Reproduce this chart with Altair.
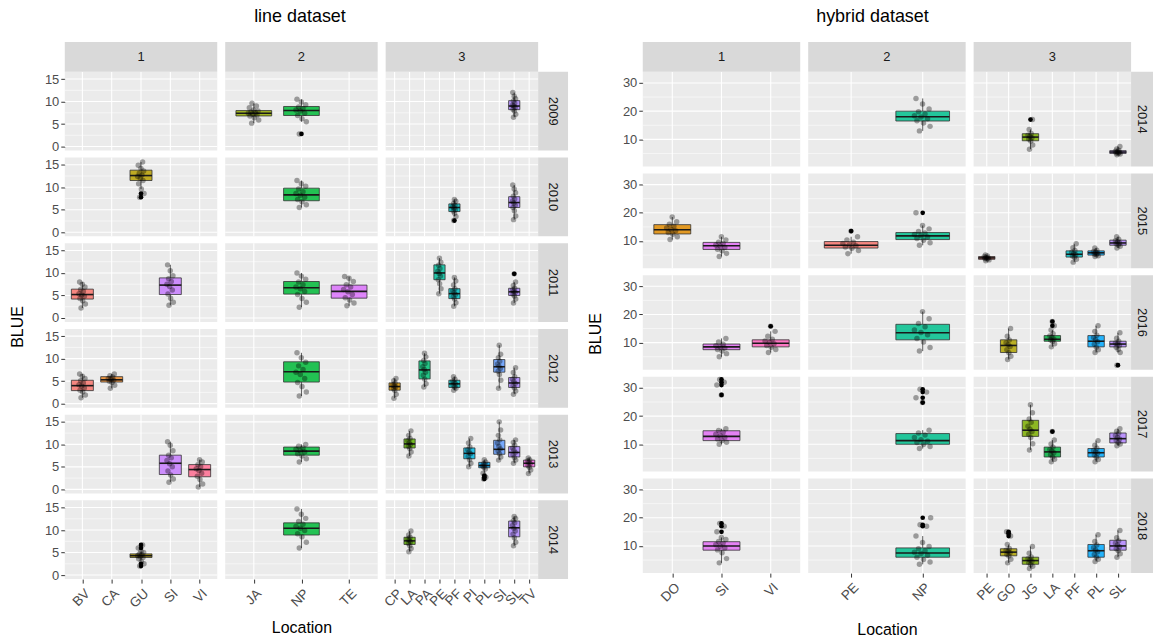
import json
import altair as alt
import pandas as pd

FONT = "Liberation Sans"
PANEL_BG = "#EBEBEB"
STRIP_BG = "#D9D9D9"
STRIP_TXT = "#1A1A1A"

# ---------------- line dataset ----------------
LINE_YEARS = [2009, 2010, 2011, 2012, 2013, 2014]
LINE_CATS = {
    1: ["BV", "CA", "GU", "SI", "VI"],
    2: ["JA", "NP", "TE"],
    3: ["CP", "LA", "PA", "PE", "PF", "PI", "PL", "SI", "SL", "TV"],
}
LINE_Y_MAJOR = [0, 5, 10, 15]
LINE_Y_MINOR = [2.5, 7.5, 12.5]
LINE_Y_DOMAIN = [-0.9, 16.6]

# year, group, location, lower whisker, Q1, median, Q3, upper whisker
LINE_BOXES = [
    (2009, 2, "JA", 5.2, 6.8, 7.4, 8.0, 9.6),
    (2009, 2, "NP", 5.5, 6.9, 8.0, 8.9, 10.5),
    (2009, 3, "SL", 6.5, 8.2, 9.0, 10.2, 12.0),
    (2010, 1, "GU", 9.6, 11.5, 12.6, 13.8, 15.6),
    (2010, 2, "NP", 5.5, 7.0, 8.3, 9.8, 11.5),
    (2010, 3, "PF", 3.5, 4.6, 5.5, 6.3, 7.3),
    (2010, 3, "SL", 2.8, 5.5, 6.6, 7.9, 10.5),
    (2011, 1, "BV", 2.2, 4.2, 5.2, 6.4, 8.0),
    (2011, 1, "SI", 2.8, 5.2, 7.3, 8.9, 11.8),
    (2011, 2, "NP", 2.4, 5.3, 6.7, 8.1, 10.0),
    (2011, 2, "TE", 2.7, 4.4, 5.9, 7.3, 9.2),
    (2011, 3, "PE", 5.4, 8.5, 10.0, 11.8, 13.3),
    (2011, 3, "PF", 2.6, 4.3, 5.4, 6.5, 9.0),
    (2011, 3, "SL", 3.3, 5.0, 5.8, 6.6, 8.0),
    (2012, 1, "BV", 1.3, 2.9, 4.0, 5.2, 6.6),
    (2012, 1, "CA", 3.4, 4.8, 5.3, 6.0, 6.6),
    (2012, 2, "NP", 1.7, 4.8, 7.1, 9.3, 11.3),
    (2012, 3, "CP", 1.2, 3.0, 3.8, 4.6, 5.6),
    (2012, 3, "PA", 3.7, 5.5, 7.5, 9.5, 11.2),
    (2012, 3, "PF", 3.0, 3.6, 4.4, 5.2, 6.0),
    (2012, 3, "SI", 3.4, 7.0, 8.2, 9.8, 13.0),
    (2012, 3, "SL", 2.1, 3.6, 4.6, 5.8, 8.0),
    (2013, 1, "SI", 1.6, 3.3, 5.8, 7.6, 10.6),
    (2013, 1, "VI", 0.5, 2.8, 4.4, 5.5, 6.6),
    (2013, 2, "NP", 6.1, 7.6, 8.5, 9.4, 10.0),
    (2013, 3, "LA", 7.4, 9.2, 10.1, 11.2, 13.0),
    (2013, 3, "PI", 5.0, 6.8, 8.0, 9.2, 11.3),
    (2013, 3, "PL", 3.6, 4.8, 5.3, 6.0, 6.6),
    (2013, 3, "SI", 6.5, 7.8, 8.9, 10.9, 15.0),
    (2013, 3, "SL", 5.8, 7.2, 8.2, 9.5, 11.0),
    (2013, 3, "TV", 3.5, 5.0, 5.8, 6.5, 7.0),
    (2014, 1, "GU", 3.0, 3.9, 4.3, 4.7, 5.3),
    (2014, 2, "NP", 6.0, 8.9, 10.4, 11.6, 14.7),
    (2014, 3, "LA", 5.2, 6.8, 7.6, 8.4, 9.8),
    (2014, 3, "SL", 6.5, 8.5, 10.5, 12.0, 13.0),
]
LINE_OUTLIERS = {
    (2009, 2, "NP"): [2.8],
    (2010, 1, "GU"): [7.8, 8.6],
    (2010, 3, "PF"): [2.6],
    (2011, 3, "SL"): [9.8],
    (2013, 3, "PL"): [2.3, 2.7, 3.0],
    (2014, 1, "GU"): [2.0, 2.5, 6.0, 6.7],
}
LINE_POINTS = {
    (2009, 2, "JA"): [5.2, 5.9, 6.4, 6.8, 7.0, 7.2, 7.4, 7.5, 7.7, 7.9, 8.1, 8.6, 9.0, 9.6],
    (2009, 2, "NP"): [2.8, 5.5, 6.2, 6.9, 7.4, 7.9, 8.1, 8.4, 8.8, 9.3, 9.9, 10.5],
    (2009, 3, "SL"): [6.5, 7.2, 7.9, 8.3, 8.7, 9.0, 9.2, 9.6, 10.1, 10.6, 11.2, 12.0],
    (2010, 1, "GU"): [7.8, 8.6, 9.6, 10.8, 11.5, 12.0, 12.4, 12.7, 13.1, 13.6, 14.2, 14.9, 15.6],
    (2010, 2, "NP"): [5.5, 6.1, 6.8, 7.3, 7.8, 8.2, 8.6, 9.0, 9.6, 10.2, 10.8, 11.5],
    (2010, 3, "PF"): [2.6, 3.5, 4.2, 4.7, 5.0, 5.4, 5.7, 6.0, 6.4, 6.9, 7.3],
    (2010, 3, "SL"): [2.8, 3.6, 4.8, 5.5, 6.0, 6.5, 6.9, 7.4, 8.0, 8.8, 9.6, 10.5],
    (2011, 1, "BV"): [2.2, 3.1, 3.8, 4.3, 4.8, 5.1, 5.4, 5.9, 6.3, 6.9, 7.5, 8.0],
    (2011, 1, "SI"): [2.8, 3.5, 4.4, 5.3, 6.2, 7.0, 7.5, 8.1, 8.7, 9.4, 10.5, 11.8],
    (2011, 2, "NP"): [2.4, 3.5, 4.3, 5.2, 5.9, 6.5, 6.9, 7.4, 8.0, 8.6, 9.3, 10.0],
    (2011, 2, "TE"): [2.7, 3.3, 4.0, 4.5, 5.2, 5.8, 6.3, 6.9, 7.4, 8.1, 8.8, 9.2],
    (2011, 3, "PE"): [5.4, 6.5, 7.6, 8.5, 9.3, 9.9, 10.4, 11.0, 11.7, 12.4, 13.3],
    (2011, 3, "PF"): [2.6, 3.4, 4.2, 4.7, 5.2, 5.6, 6.0, 6.5, 7.3, 8.2, 9.0],
    (2011, 3, "SL"): [3.3, 4.2, 4.9, 5.3, 5.7, 5.9, 6.2, 6.6, 7.2, 8.0, 9.8],
    (2012, 1, "BV"): [1.3, 1.9, 2.6, 3.0, 3.5, 3.9, 4.2, 4.6, 5.1, 5.6, 6.1, 6.6],
    (2012, 1, "CA"): [3.4, 4.1, 4.7, 5.0, 5.2, 5.4, 5.6, 5.9, 6.2, 6.6],
    (2012, 2, "NP"): [1.7, 2.6, 3.8, 4.7, 5.6, 6.5, 7.0, 7.6, 8.4, 9.2, 10.2, 11.3],
    (2012, 3, "CP"): [1.2, 2.1, 2.9, 3.3, 3.7, 3.9, 4.2, 4.6, 5.1, 5.6],
    (2012, 3, "PA"): [3.7, 4.4, 5.4, 6.3, 7.0, 7.6, 8.2, 8.9, 9.6, 10.4, 11.2],
    (2012, 3, "PF"): [3.0, 3.4, 3.7, 4.1, 4.4, 4.7, 5.0, 5.4, 6.0],
    (2012, 3, "SI"): [3.4, 5.2, 6.5, 7.2, 7.8, 8.3, 8.8, 9.4, 10.2, 11.0, 13.0],
    (2012, 3, "SL"): [2.1, 2.8, 3.5, 4.0, 4.5, 4.9, 5.4, 6.0, 6.9, 8.0],
    (2013, 1, "SI"): [1.6, 2.3, 3.2, 4.1, 5.0, 5.7, 6.4, 7.0, 7.6, 8.6, 9.8, 10.6],
    (2013, 1, "VI"): [0.5, 1.2, 2.2, 2.9, 3.6, 4.2, 4.6, 5.0, 5.5, 6.1, 6.6],
    (2013, 2, "NP"): [6.1, 6.8, 7.4, 7.9, 8.3, 8.6, 8.9, 9.2, 9.6, 10.0],
    (2013, 3, "LA"): [7.4, 8.3, 9.1, 9.6, 10.0, 10.3, 10.8, 11.3, 12.0, 13.0],
    (2013, 3, "PI"): [5.0, 5.8, 6.6, 7.3, 7.9, 8.3, 8.8, 9.4, 10.3, 11.3],
    (2013, 3, "PL"): [2.3, 2.7, 3.0, 3.6, 4.5, 4.9, 5.2, 5.4, 5.7, 6.1, 6.6],
    (2013, 3, "SI"): [6.5, 7.2, 7.9, 8.5, 9.0, 9.6, 10.3, 11.0, 12.0, 13.2, 15.0],
    (2013, 3, "SL"): [5.8, 6.5, 7.1, 7.7, 8.2, 8.7, 9.2, 9.8, 10.4, 11.0],
    (2013, 3, "TV"): [3.5, 4.3, 4.9, 5.3, 5.7, 6.0, 6.3, 6.6, 7.0],
    (2014, 1, "GU"): [2.0, 2.5, 3.0, 3.6, 3.9, 4.1, 4.3, 4.5, 4.7, 5.0, 5.3, 6.0, 6.7],
    (2014, 2, "NP"): [6.0, 7.3, 8.5, 9.2, 9.9, 10.4, 10.8, 11.3, 11.9, 12.6, 13.5, 14.7],
    (2014, 3, "LA"): [5.2, 5.9, 6.5, 7.0, 7.4, 7.7, 8.0, 8.4, 8.9, 9.8],
    (2014, 3, "SL"): [6.5, 7.3, 8.3, 9.1, 9.8, 10.4, 11.0, 11.6, 12.1, 12.6, 13.0],
}
LINE_COLORS = {
    "BV": "#F8766D", "CA": "#E88526", "CP": "#D39200", "GU": "#B79F00",
    "JA": "#93AA00", "LA": "#5EB300", "NP": "#00BA38", "PA": "#00BF74",
    "PE": "#00C19F", "PF": "#00BFC4", "PI": "#00B9E3", "PL": "#00ADFA",
    "SI": "#619CFF", "SL": "#AE87FF", "TE": "#DB72FB", "TV": "#F564E3",
    "VI": "#FF6C91",
}
LINE_COLOR_OVERRIDES = {(1, "SI"): "#C77CFF"}

# ---------------- hybrid dataset ----------------
HYB_YEARS = [2014, 2015, 2016, 2017, 2018]
HYB_CATS = {
    1: ["DO", "SI", "VI"],
    2: ["PE", "NP"],
    3: ["PE", "GO", "JG", "LA", "PF", "PL", "SL"],
}
HYB_Y_MAJOR = [10, 20, 30]
HYB_Y_MINOR = [5, 15, 25]
HYB_Y_DOMAIN = [0.36, 33.93]

HYB_BOXES = [
    (2014, 2, "NP", 13.0, 16.5, 18.0, 20.0, 24.5),
    (2014, 3, "JG", 6.5, 9.5, 10.8, 12.0, 13.5),
    (2014, 3, "SL", 4.5, 5.0, 5.5, 6.0, 7.5),
    (2015, 1, "DO", 10.5, 12.5, 14.0, 15.8, 18.5),
    (2015, 1, "SI", 4.5, 7.0, 8.3, 9.5, 11.5),
    (2015, 2, "PE", 5.5, 7.5, 8.5, 9.8, 11.5),
    (2015, 2, "NP", 8.5, 10.5, 11.8, 13.0, 15.5),
    (2015, 3, "PE", 3.0, 3.5, 4.0, 4.5, 5.0),
    (2015, 3, "PF", 2.5, 4.3, 5.3, 6.5, 9.0),
    (2015, 3, "PL", 4.5, 5.0, 5.8, 6.5, 7.5),
    (2015, 3, "SL", 7.5, 8.5, 9.3, 10.3, 11.5),
    (2016, 1, "SI", 5.0, 7.5, 8.5, 9.5, 11.5),
    (2016, 1, "VI", 6.5, 8.5, 9.8, 11.0, 14.0),
    (2016, 2, "NP", 7.0, 11.0, 13.5, 16.5, 21.0),
    (2016, 3, "GO", 4.0, 6.5, 9.0, 11.0, 15.0),
    (2016, 3, "LA", 8.5, 10.5, 11.2, 12.5, 14.5),
    (2016, 3, "PL", 6.5, 8.5, 10.5, 12.5, 16.0),
    (2016, 3, "SL", 6.5, 8.5, 9.5, 10.5, 13.5),
    (2017, 1, "SI", 10.0, 11.3, 12.8, 14.8, 15.5),
    (2017, 2, "NP", 8.5, 10.0, 11.3, 13.8, 15.0),
    (2017, 3, "JG", 8.0, 12.8, 15.0, 18.5, 24.0),
    (2017, 3, "LA", 3.8, 5.5, 7.3, 9.0, 11.5),
    (2017, 3, "PL", 3.8, 5.5, 7.0, 8.5, 11.3),
    (2017, 3, "SL", 9.5, 10.5, 12.0, 14.0, 15.5),
    (2018, 1, "SI", 4.0, 8.5, 10.0, 11.5, 13.0),
    (2018, 2, "NP", 3.5, 6.0, 7.5, 9.3, 13.5),
    (2018, 3, "GO", 4.0, 6.5, 7.8, 9.0, 10.5),
    (2018, 3, "JG", 2.0, 3.5, 4.8, 6.0, 9.8),
    (2018, 3, "PL", 4.5, 6.0, 8.3, 10.5, 14.0),
    (2018, 3, "SL", 6.0, 8.5, 10.0, 12.0, 15.5),
]
HYB_OUTLIERS = {
    (2014, 3, "JG"): [17.0],
    (2015, 2, "PE"): [13.5],
    (2015, 2, "NP"): [20.0],
    (2016, 1, "VI"): [15.8],
    (2016, 3, "LA"): [16.0, 17.5],
    (2016, 3, "SL"): [2.0],
    (2017, 1, "SI"): [27.5, 31.0, 32.0, 33.0],
    (2017, 2, "NP"): [24.8, 26.5, 28.5, 29.5],
    (2017, 3, "LA"): [14.5],
    (2018, 1, "SI"): [15.0, 17.0, 18.0],
    (2018, 2, "NP"): [17.0, 17.5, 20.0],
    (2018, 3, "GO"): [13.5, 14.5, 15.0],
}
HYB_POINTS = {
    (2014, 2, "NP"): [13.0, 14.6, 15.8, 16.6, 17.3, 17.9, 18.4, 19.0, 19.8, 20.8, 22.5, 24.5],
    (2014, 3, "JG"): [6.5, 8.0, 9.4, 10.1, 10.6, 11.0, 11.5, 12.1, 13.5, 17.0],
    (2014, 3, "SL"): [4.5, 4.8, 5.0, 5.2, 5.4, 5.6, 5.8, 6.1, 6.6, 7.5],
    (2015, 1, "DO"): [10.5, 11.5, 12.4, 13.0, 13.6, 14.1, 14.6, 15.2, 15.9, 16.8, 18.5],
    (2015, 1, "SI"): [4.5, 5.6, 6.5, 7.1, 7.7, 8.2, 8.6, 9.1, 9.6, 10.4, 11.5],
    (2015, 2, "PE"): [5.5, 6.6, 7.4, 7.9, 8.3, 8.7, 9.1, 9.6, 10.4, 11.5, 13.5],
    (2015, 2, "NP"): [8.5, 9.4, 10.3, 10.9, 11.4, 11.9, 12.3, 12.8, 13.4, 14.3, 15.5, 20.0],
    (2015, 3, "PE"): [3.0, 3.3, 3.6, 3.8, 4.0, 4.2, 4.4, 4.7, 5.0],
    (2015, 3, "PF"): [2.5, 3.5, 4.2, 4.7, 5.1, 5.5, 6.0, 6.6, 7.6, 9.0],
    (2015, 3, "PL"): [4.5, 4.8, 5.1, 5.4, 5.7, 6.0, 6.3, 6.7, 7.5],
    (2015, 3, "SL"): [7.5, 8.1, 8.6, 9.0, 9.3, 9.7, 10.1, 10.6, 11.5],
    (2016, 1, "SI"): [5.0, 6.1, 7.0, 7.6, 8.1, 8.5, 8.9, 9.4, 10.2, 11.5],
    (2016, 1, "VI"): [6.5, 7.6, 8.4, 9.0, 9.6, 10.1, 10.6, 11.2, 12.3, 14.0, 15.8],
    (2016, 2, "NP"): [7.0, 8.3, 10.2, 11.5, 12.8, 13.6, 14.5, 15.6, 16.8, 18.5, 21.0],
    (2016, 3, "GO"): [4.0, 5.2, 6.4, 7.5, 8.6, 9.3, 10.0, 10.9, 12.3, 15.0],
    (2016, 3, "LA"): [8.5, 9.6, 10.4, 10.9, 11.3, 11.8, 12.4, 13.2, 14.5, 16.0, 17.5],
    (2016, 3, "PL"): [6.5, 7.5, 8.4, 9.4, 10.3, 11.0, 11.8, 12.6, 14.0, 16.0],
    (2016, 3, "SL"): [2.0, 6.5, 7.6, 8.4, 9.0, 9.5, 9.9, 10.5, 11.6, 13.5],
    (2017, 1, "SI"): [10.0, 10.7, 11.3, 11.9, 12.5, 13.0, 13.6, 14.3, 14.9, 15.5, 27.5, 31.0, 32.0, 33.0],
    (2017, 2, "NP"): [8.5, 9.2, 9.9, 10.6, 11.1, 11.6, 12.4, 13.3, 14.0, 15.0, 24.8, 26.5, 28.5, 29.5],
    (2017, 3, "JG"): [8.0, 10.2, 12.4, 13.6, 14.5, 15.3, 16.4, 17.8, 19.0, 21.2, 24.0],
    (2017, 3, "LA"): [3.8, 4.7, 5.5, 6.3, 7.0, 7.6, 8.2, 9.0, 10.1, 11.5, 14.5],
    (2017, 3, "PL"): [3.8, 4.6, 5.4, 6.2, 6.8, 7.3, 7.9, 8.6, 9.7, 11.3],
    (2017, 3, "SL"): [9.5, 10.1, 10.6, 11.3, 11.9, 12.4, 13.1, 13.9, 14.6, 15.5],
    (2018, 1, "SI"): [4.0, 5.5, 7.6, 8.6, 9.3, 9.9, 10.4, 11.0, 11.6, 12.3, 13.0, 15.0, 17.0, 18.0],
    (2018, 2, "NP"): [3.5, 4.3, 5.2, 6.0, 6.7, 7.3, 7.8, 8.4, 9.0, 9.8, 11.2, 13.5, 17.0, 17.5, 20.0],
    (2018, 3, "GO"): [4.0, 5.3, 6.4, 7.0, 7.6, 8.0, 8.5, 9.1, 10.5, 13.5, 14.5, 15.0],
    (2018, 3, "JG"): [2.0, 2.8, 3.4, 4.0, 4.6, 5.0, 5.5, 6.1, 7.4, 9.8],
    (2018, 3, "PL"): [4.5, 5.3, 6.1, 7.0, 7.9, 8.6, 9.4, 10.3, 11.6, 14.0],
    (2018, 3, "SL"): [6.0, 7.2, 8.3, 9.0, 9.7, 10.3, 11.0, 11.8, 12.9, 15.5],
}
HYB_COLORS = {
    "DO": "#E08B00", "SI": "#E36EF6", "VI": "#FF62BC", "PE": "#F8766D",
    "NP": "#00C08D", "GO": "#AFA200", "JG": "#7CAE00", "LA": "#00B13F",
    "PF": "#00BFC4", "PL": "#00A9FF", "SL": "#B385FF",
}
HYB_COLOR_OVERRIDES = {}

COLOR_DOMAIN = []
COLOR_RANGE = []


def jitter(k):
    # deterministic horizontal spread of the raw points (in category units)
    return 0.12 * (2.0 * ((k * 0.6180339887 + 0.31) % 1.0) - 1.0)


def make_frames(prefix, cats, boxes, outliers, points, colors, overrides):
    b, o, p = [], [], []
    for (yr, g, loc, lo, q1, md, q3, hi) in boxes:
        xi = cats[g].index(loc)
        ck = f"{prefix}{g}{loc}"
        if ck not in COLOR_DOMAIN:
            COLOR_DOMAIN.append(ck)
            COLOR_RANGE.append(overrides.get((g, loc), colors[loc]))
        b.append(dict(year=yr, g=g, xi=xi, lo=lo, q1=q1, med=md, q3=q3, hi=hi, ck=ck))
        for v in outliers.get((yr, g, loc), []):
            o.append(dict(year=yr, g=g, xi=xi, v=v))
        for k, v in enumerate(points[(yr, g, loc)]):
            p.append(dict(year=yr, g=g, xi=xi, jit=jitter(k), v=v))
    return pd.DataFrame(b), pd.DataFrame(o), pd.DataFrame(p)


LINE = dict(
    title="line dataset", years=LINE_YEARS, cats=LINE_CATS,
    ymajor=LINE_Y_MAJOR, yminor=LINE_Y_MINOR, ydom=LINE_Y_DOMAIN,
    pw=153, ph=79, sw=30, blue_y=256, dx=16, tpad=11,
)
HYB = dict(
    title="hybrid dataset", years=HYB_YEARS, cats=HYB_CATS,
    ymajor=HYB_Y_MAJOR, yminor=HYB_Y_MINOR, ydom=HYB_Y_DOMAIN,
    pw=158, ph=95, sw=22, blue_y=263, dx=7, tpad=19,
)
LINE["frames"] = make_frames("L", LINE_CATS, LINE_BOXES, LINE_OUTLIERS, LINE_POINTS,
                             LINE_COLORS, LINE_COLOR_OVERRIDES)
HYB["frames"] = make_frames("H", HYB_CATS, HYB_BOXES, HYB_OUTLIERS, HYB_POINTS,
                            HYB_COLORS, HYB_COLOR_OVERRIDES)


def panel(ds, yr, g, top, bottom):
    cats = ds["cats"][g]
    n = len(cats)
    W, H, SW = ds["pw"], ds["ph"], ds["sw"]
    xs = alt.Scale(domain=[-0.6, n - 1 + 0.6], nice=False, zero=False)
    ys = alt.Scale(domain=ds["ydom"], nice=False, zero=False)

    if bottom:
        xaxis = alt.Axis(
            values=list(range(n)), labelExpr=json.dumps(cats) + "[round(datum.value)]",
            labelAngle=315, labelAlign="right", labelBaseline="top",
            labelFontSize=13.5, labelColor="#4D4D4D", labelFont=FONT,
            labelOverlap=False, labelFlush=False, labelPadding=3,
            tickColor="#333333", tickSize=4, domain=False, grid=False,
            title="Location" if g == 2 else None,
            titleFont=FONT, titleFontSize=16, titleFontWeight="normal",
            titleColor="black", titlePadding=ds["tpad"],
        )
    else:
        xaxis = None
    if g == 1:
        yaxis = alt.Axis(
            values=ds["ymajor"], labelFontSize=13, labelColor="#4D4D4D", labelFont=FONT,
            labelPadding=2, tickColor="#333333", tickSize=4, domain=False, grid=False,
            labelFlush=False, labelOverlap=False, title=None,
        )
    else:
        yaxis = None

    def X(f):
        return alt.X(f + ":Q", scale=xs, axis=xaxis)

    def Y(f):
        return alt.Y(f + ":Q", scale=ys, axis=yaxis)

    layers = []
    layers.append(alt.Chart(pd.DataFrame({"xi": list(range(n))}))
                  .mark_rule(color="white", strokeWidth=1.1).encode(x=X("xi")))
    layers.append(alt.Chart(pd.DataFrame({"v": ds["yminor"]}))
                  .mark_rule(color="white", strokeWidth=0.55).encode(y=Y("v")))
    layers.append(alt.Chart(pd.DataFrame({"v": ds["ymajor"]}))
                  .mark_rule(color="white", strokeWidth=1.1).encode(y=Y("v")))

    bdf, odf, pdf = ds["frames"]
    b = bdf[(bdf.year == yr) & (bdf.g == g)]
    if len(b):
        base = alt.Chart(b).transform_calculate(x0="datum.xi - 0.375", x1="datum.xi + 0.375")
        layers.append(base.mark_rule(color="#333333", strokeWidth=0.8)
                      .encode(x=X("xi"), y=Y("lo"), y2="q1"))
        layers.append(base.mark_rule(color="#333333", strokeWidth=0.8)
                      .encode(x=X("xi"), y=Y("q3"), y2="hi"))
        layers.append(base.mark_rect(stroke="#333333", strokeWidth=0.8, fillOpacity=0.85)
                      .encode(x=X("x0"), x2="x1", y=Y("q1"), y2="q3",
                              fill=alt.Fill("ck:N", legend=None,
                                            scale=alt.Scale(domain=COLOR_DOMAIN, range=COLOR_RANGE))))
        layers.append(base.mark_rule(color="#1A1A1A", strokeWidth=1.6)
                      .encode(x=X("x0"), x2="x1", y=Y("med")))
        o = odf[(odf.year == yr) & (odf.g == g)] if len(odf) else odf
        if len(o):
            layers.append(alt.Chart(o).mark_circle(color="black", opacity=1, size=22)
                          .encode(x=X("xi"), y=Y("v")))
        p = pdf[(pdf.year == yr) & (pdf.g == g)]
        layers.append(alt.Chart(p).transform_calculate(xj="datum.xi + datum.jit")
                      .mark_circle(color="black", opacity=0.35, size=30)
                      .encode(x=X("xj"), y=Y("v")))

    if top:
        sdf = pd.DataFrame({"t": [str(g)]})
        layers.append(alt.Chart(sdf).mark_rect(color=STRIP_BG).encode(
            x=alt.value(0), x2=alt.value(W), y=alt.value(-30), y2=alt.value(0)))
        layers.append(alt.Chart(sdf).mark_text(font=FONT, fontSize=13, color=STRIP_TXT,
                                               baseline="middle").encode(
            x=alt.value(W / 2), y=alt.value(-15), text="t:N"))
    if g == 3:
        rdf = pd.DataFrame({"t": [str(yr)]})
        layers.append(alt.Chart(rdf).mark_rect(color=STRIP_BG).encode(
            x=alt.value(W), x2=alt.value(W + SW), y=alt.value(0), y2=alt.value(H)))
        layers.append(alt.Chart(rdf).mark_text(font=FONT, fontSize=13, color=STRIP_TXT,
                                               angle=90, baseline="middle").encode(
            x=alt.value(W + SW / 2), y=alt.value(H / 2), text="t:N"))

    return alt.layer(*layers).properties(
        width=W, height=H, view=alt.ViewBackground(fill=PANEL_BG, strokeWidth=0))


def grid(ds):
    cells = []
    years = ds["years"]
    for r, yr in enumerate(years):
        for g in (1, 2, 3):
            cells.append(panel(ds, yr, g, top=(r == 0), bottom=(r == len(years) - 1)))
    return alt.concat(*cells, columns=3, spacing={"row": 7, "column": 8}, bounds="flush")


def block(ds):
    nrows = len(ds["years"])
    gh = nrows * ds["ph"] + (nrows - 1) * 7
    lab = (alt.Chart(pd.DataFrame({"t": ["BLUE"]}))
           .mark_text(angle=270, font=FONT, fontSize=16, color="black", baseline="middle")
           .encode(text="t:N", x=alt.value(18), y=alt.value(ds["blue_y"]))
           .properties(width=36, height=gh))
    return alt.hconcat(lab, grid(ds), spacing=8).properties(
        title=alt.TitleParams(ds["title"], anchor="middle", dx=ds["dx"], offset=16,
                              font=FONT, fontSize=18, fontWeight="normal", color="black"))


chart = (
    alt.hconcat(block(LINE), block(HYB), spacing=10)
    .properties(padding={"left": 0, "top": 7, "right": 0, "bottom": 0})
    .configure_view(strokeWidth=0)
)

chart.save("out.html", embed_options={"renderer": "svg", "actions": False})
